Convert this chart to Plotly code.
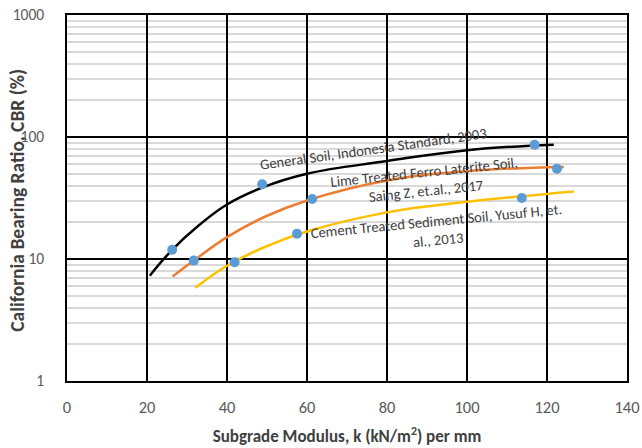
import math
import plotly.graph_objects as go

# ---- data ----
general_k = [20.7, 26.3, 32.9, 40, 48.8, 60, 80, 100, 121.7]
general_cbr = [7.3, 11.9, 18.8, 28.0, 38.5, 50, 63.5, 78, 86.5]

lime_k = [26.4, 31.7, 40, 49.6, 60, 80, 100, 124.2]
lime_cbr = [7.2, 9.7, 15.1, 22.3, 30.2, 44, 52.5, 56.8]

cement_k = [32.1, 40, 49.6, 60, 80, 100, 126.7]
cement_cbr = [5.8, 8.8, 12.6, 16.8, 24.1, 29.4, 35.8]

point_k = [26.3, 31.7, 41.9, 48.8, 57.5, 61.3, 113.7, 116.9, 122.5]
point_cbr = [11.9, 9.7, 9.4, 41, 16.1, 31, 31.6, 86.5, 55]

x_ticks = [0, 20, 40, 60, 80, 100, 120, 140]
y_ticks = [1, 10, 100, 1000]
y_minor = [m * d for d in (1, 10, 100) for m in range(2, 10)]

labels = [
    dict(text="General Soil, Indonesia Standard, 2003", k=76.6, cbr=79.7, angle=-8),
    dict(text="Lime Treated Ferro Laterite Soil,<br>Saing Z, et.al., 2017", k=89.6, cbr=43.4, angle=-6),
    dict(text="Cement Treated Sediment Soil, Yusuf H, et.<br>al., 2013", k=92.6, cbr=17.1, angle=-5.5),
]

FONT = "Carlito, Calibri, Lato, Liberation Sans, Arial, sans-serif"

fig = go.Figure()
fig.add_trace(go.Scatter(x=general_k, y=general_cbr, mode="lines",
                         line=dict(color="#000000", width=2.5, shape="spline", smoothing=1.2),
                         name="General Soil"))
fig.add_trace(go.Scatter(x=lime_k, y=lime_cbr, mode="lines",
                         line=dict(color="#ED7D31", width=2.5, shape="spline", smoothing=1.2),
                         name="Lime Treated"))
fig.add_trace(go.Scatter(x=cement_k, y=cement_cbr, mode="lines",
                         line=dict(color="#FFC000", width=2.5, shape="spline", smoothing=1.2),
                         name="Cement Treated"))
fig.add_trace(go.Scatter(x=point_k, y=point_cbr, mode="markers",
                         marker=dict(color="#5B9BD5", size=10, line=dict(width=0)),
                         name="Data"))

for lab in labels:
    # annotation y on a log axis is given in log10 units
    fig.add_annotation(x=lab["k"], y=math.log10(lab["cbr"]), yref="y", xref="x",
                       text=lab["text"], showarrow=False, textangle=lab["angle"],
                       font=dict(family=FONT, size=14.6, color="#404040"))

fig.add_annotation(text="<b>California Bearing Ratio, CBR (%)</b>", xref="paper", yref="paper",
                   x=-0.0895, y=0.495, xanchor="center", yanchor="middle", textangle=-90,
                   showarrow=False, font=dict(family=FONT, size=19.5, color="#404040"))

fig.update_layout(
    width=642, height=448,
    margin=dict(l=67, r=15, t=15, b=67),
    paper_bgcolor="white", plot_bgcolor="white",
    showlegend=False,
    font=dict(family=FONT, size=16, color="#595959"),
)
fig.update_xaxes(
    range=[0, 140], tickvals=x_ticks, ticktext=[str(v) for v in x_ticks],
    tickfont=dict(size=16.5),
    showgrid=True, gridcolor="#000000", gridwidth=1.5,
    showline=True, linecolor="#000000", linewidth=1.5, mirror=True,
    zeroline=False, ticks="", ticklabelstandoff=10, automargin=False,
    title=dict(text="<b>Subgrade Modulus, k (kN/m<sup>2</sup>) per mm</b>", standoff=15,
               font=dict(family=FONT, size=17, color="#404040")),
)
fig.update_yaxes(
    type="log", range=[0, 3], tickvals=y_ticks, ticktext=[str(v) for v in y_ticks],
    tickfont=dict(size=15.5),
    showgrid=True, gridcolor="#000000", gridwidth=1.5,
    minor=dict(tickvals=y_minor, showgrid=True, gridcolor="#d9d9d9", gridwidth=1.5, ticks=""),
    showline=True, linecolor="#000000", linewidth=1.5, mirror=True,
    zeroline=False, ticks="", ticklabelstandoff=18, automargin=False,
)

fig.write_html("out.html", config={"displayModeBar": False},
               post_script="document.body.style.margin='0';")
